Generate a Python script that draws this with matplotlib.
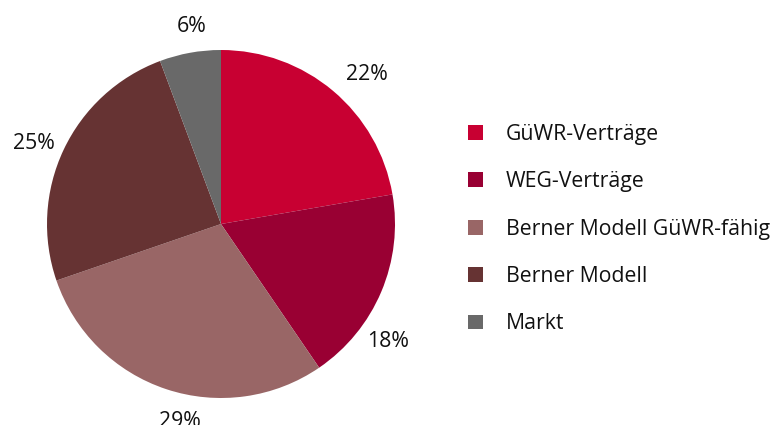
import matplotlib
matplotlib.use("Agg")
import numpy as np
import matplotlib.pyplot as plt
from matplotlib.patches import Patch

categories = ["GüWR-Verträge", "WEG-Verträge", "Berner Modell GüWR-fähig", "Berner Modell", "Markt"]
values = [22.3, 18.2, 29.3, 24.6, 5.7]
colors = ["#C80032", "#990033", "#996666", "#663333", "#696969"]

# label placement tweaks (layout only)
label_angle_shift = [-4.3, -12.3, 6.5, 2.1, -1.75]
label_dist = [1.20, 1.175, 1.16, 1.17, 1.15]

plt.rcParams['font.family'] = ['Open Sans', 'DejaVu Sans']
FS = 15.3

fig = plt.figure(figsize=(7.73, 4.25), dpi=100)
ax = fig.add_axes([47/773, 27/425, 348/773, 348/425])
wedges, texts = ax.pie(values, colors=colors, startangle=90, counterclock=False,
                       radius=1, wedgeprops=dict(linewidth=0))
ax.set_xlim(-1, 1)
ax.set_ylim(-1, 1)
ax.set_aspect('equal')

total = sum(values)
for w, v, da, d in zip(wedges, values, label_angle_shift, label_dist):
    mid = np.deg2rad((w.theta1 + w.theta2) / 2 + da)
    ax.text(d * np.cos(mid), d * np.sin(mid), f"{100*v/total:.0f}%",
            ha='center', va='center', fontsize=FS, color="#111111", clip_on=False)

handles = [Patch(facecolor=c, edgecolor='none') for c in colors]
leg = fig.legend(handles, categories, loc='upper left', bbox_to_anchor=(468/773, 1 - 124/425),
                 frameon=False, fontsize=FS, handlelength=0.7, handleheight=0.7,
                 handletextpad=1.07, labelspacing=1.24, borderaxespad=0, borderpad=0)
for t in leg.get_texts():
    t.set_color("#111111")

fig.savefig("out.png", dpi=100)
